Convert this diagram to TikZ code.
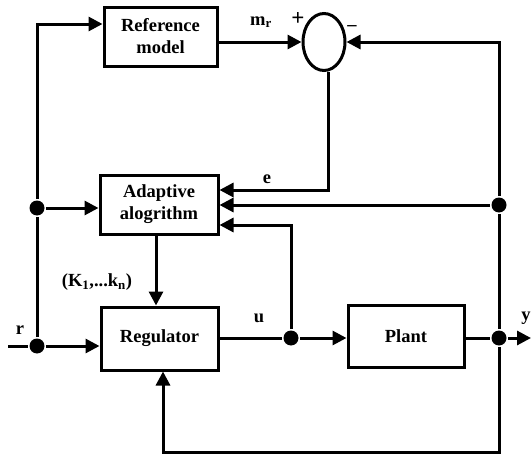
\documentclass[tikz,border=0pt]{standalone}
\usepackage{fontspec}
\setmainfont{Liberation Serif}
\usetikzlibrary{arrows.meta,shapes.geometric}
\begin{document}
\begin{tikzpicture}[x=1pt,y=-1pt,
  line width=3pt,
  blk/.style={draw,line width=3pt,rectangle,minimum width=#1,align=center,inner sep=0pt,
    font=\bfseries\fontsize{18.5}{22}\selectfont},
  lbl/.style={font=\bfseries\fontsize{18.5}{20}\selectfont,inner sep=0pt},
  dot/.style={circle,fill=black,inner sep=0pt,minimum size=15pt},
  arr/.style={-{Triangle[length=14pt,width=14pt]}},
  ]
\useasboundingbox (0,0) rectangle (531,455);
% blocks
\node[blk=113pt,minimum height=59pt] (ref) at (160.5,36.5) {Reference\\model};
\node[draw,line width=3pt,ellipse,minimum width=42pt,minimum height=57pt,inner sep=0pt] (sum) at (324,42) {};
\node[blk=118pt,minimum height=59pt] (adapt) at (159,204.5) {Adaptive\\alogrithm};
\node[blk=117pt,minimum height=63pt] (reg) at (159.5,338.5) {Regulator};
\node[blk=116pt,minimum height=62pt] (plant) at (406,336) {Plant};
% junctions
\node[dot] (dL1) at (37,208) {};
\node[dot] (dL2) at (37,346) {};
\node[dot] (dU) at (291,338) {};
\node[dot] (dY) at (499,338) {};
\node[dot] (dR) at (499,205) {};
\coordinate (in) at (8,346);
\coordinate (out) at (531,338);
\coordinate (cTL) at (37,24);
\coordinate (cTR) at (499,42);
\coordinate (cE) at (328,190);
\coordinate (cU) at (291,225);
\coordinate (cBR) at (499,452);
\coordinate (cBL) at (163,452);
% connectors
\draw (in) -- (dL2);
\draw[arr] (dL2) -- (reg.west |- dL2);
\draw (dL2) -- (dL1);
\draw[arr] (dL1) -- (cTL) -- (ref.west |- cTL);
\draw[arr] (dL1) -- (adapt.west |- dL1);
\draw[arr] (ref.east |- sum.west) -- (sum.west);
\draw[arr] (sum.south -| cE) -- (cE) -- (adapt.east |- cE);
\draw[arr] (dR) -- (adapt.east |- dR);
\draw[arr] (dU) -- (cU) -- (adapt.east |- cU);
\draw[arr] (adapt.south -| 156,0) -- (reg.north -| 156,0);
\draw (reg.east |- dU) -- (dU);
\draw[arr] (dU) -- (plant.west |- dU);
\draw (plant.east |- dY) -- (dY);
\draw[arr] (dY) -- (out);
\draw (dY) -- (dR);
\draw[arr] (dR) -- (cTR) -- (sum.east);
\draw[arr] (dY) -- (cBR) -- (cBL) -- (reg.south -| cBL);
% labels
\node[lbl] (lm) at (261,22) {m\textsubscript{r}};
\node[lbl,font=\bfseries\fontsize{23}{24}\selectfont] (lp) at (298,19) {+};
\node[lbl] (lmi) at (352,28) {\textendash};
\node[lbl] (le) at (267,179) {e};
\node[lbl] (lk) at (97,282) {(K\textsubscript{1},...k\textsubscript{n})};
\node[lbl] (lr) at (20,330) {r};
\node[lbl] (lu) at (259,318) {u};
\node[lbl] (ly) at (526,318) {y};
\end{tikzpicture}
\end{document}
